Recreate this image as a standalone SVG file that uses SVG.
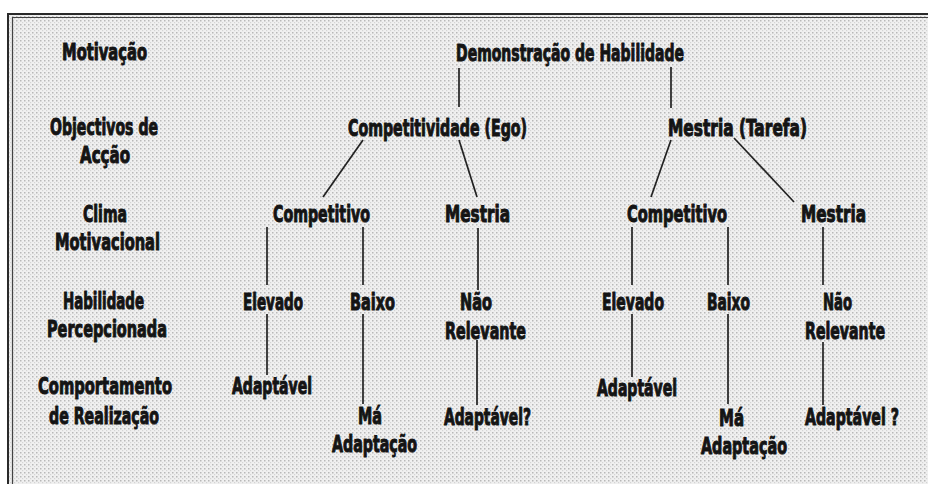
<svg xmlns="http://www.w3.org/2000/svg" width="928" height="484" viewBox="0 0 928 484">
  <defs>
    <pattern id="stipple" width="4" height="4" patternUnits="userSpaceOnUse">
      <rect width="4" height="4" fill="#f0f0f0"/>
      <rect x="0" y="0" width="1.5" height="1.5" fill="#b8b8b8"/>
      <rect x="2" y="2" width="1.2" height="1.2" fill="#d4d4d4"/>
    </pattern>
    <style>
      text { font-family: "Liberation Sans Narrow", "DejaVu Sans Condensed", "Liberation Sans", sans-serif; font-weight: bold; font-size: 23.5px; fill: #141414; stroke: #141414; stroke-width: 1; stroke-linejoin: round; text-anchor: middle; }
      .conn line { stroke: #222; stroke-width: 1.7; fill: none; }
    </style>
  </defs>
  <rect width="928" height="484" fill="#ffffff"/>
  <rect x="8" y="14" width="920" height="470" fill="url(#stipple)"/>
  <path d="M928,14 H8 V484" fill="none" stroke="#2a2a2a" stroke-width="2"/>
  <path d="M928,17.5 H12.5 V484" fill="none" stroke="#444" stroke-width="1.2"/>

  <g id="row-labels">
    <text x="104.5" y="60" textLength="85" lengthAdjust="spacingAndGlyphs">Motivação</text>
    <text x="104" y="135" textLength="108" lengthAdjust="spacingAndGlyphs">Objectivos de</text>
    <text x="105" y="163" textLength="50" lengthAdjust="spacingAndGlyphs">Acção</text>
    <text x="105" y="222" textLength="44" lengthAdjust="spacingAndGlyphs">Clima</text>
    <text x="107.5" y="250" textLength="105" lengthAdjust="spacingAndGlyphs">Motivacional</text>
    <text x="103.5" y="309" textLength="81" lengthAdjust="spacingAndGlyphs">Habilidade</text>
    <text x="107" y="337" textLength="120" lengthAdjust="spacingAndGlyphs">Percepcionada</text>
    <text x="105" y="394" textLength="134" lengthAdjust="spacingAndGlyphs">Comportamento</text>
    <text x="104" y="424" textLength="110" lengthAdjust="spacingAndGlyphs">de Realização</text>
  </g>

  <g class="conn" id="connectors">
    <line x1="459" y1="68" x2="459" y2="107"/>
    <line x1="671" y1="67" x2="671" y2="108"/>
    <line x1="363" y1="140" x2="323" y2="197"/>
    <line x1="459" y1="140" x2="477" y2="197"/>
    <line x1="671" y1="140" x2="651" y2="197"/>
    <line x1="734" y1="138" x2="794" y2="202"/>
    <line x1="267" y1="227" x2="267" y2="285"/>
    <line x1="363" y1="227" x2="363" y2="285"/>
    <line x1="478" y1="228" x2="478" y2="290"/>
    <line x1="632" y1="227" x2="632" y2="285"/>
    <line x1="728" y1="227" x2="728" y2="285"/>
    <line x1="823" y1="227" x2="823" y2="285"/>
    <line x1="267" y1="314" x2="267" y2="375"/>
    <line x1="363" y1="314" x2="363" y2="404"/>
    <line x1="477" y1="340" x2="477" y2="405"/>
    <line x1="632" y1="314" x2="632" y2="377"/>
    <line x1="728" y1="314" x2="728" y2="404"/>
    <line x1="823" y1="342" x2="823" y2="405"/>
  </g>

  <g id="n-demonstracao"><text x="570" y="61" textLength="228" lengthAdjust="spacingAndGlyphs">Demonstração de Habilidade</text></g>
  <g id="n-competitividade"><text x="437.5" y="136" textLength="179" lengthAdjust="spacingAndGlyphs">Competitividade (Ego)</text></g>
  <g id="n-mestria-tarefa"><text x="737.5" y="136" textLength="139" lengthAdjust="spacingAndGlyphs">Mestria (Tarefa)</text></g>

  <g id="n-competitivo-1"><text x="321.5" y="222" textLength="97" lengthAdjust="spacingAndGlyphs">Competitivo</text></g>
  <g id="n-mestria-1"><text x="477.5" y="222" textLength="65" lengthAdjust="spacingAndGlyphs">Mestria</text></g>
  <g id="n-competitivo-2"><text x="677" y="222" textLength="100" lengthAdjust="spacingAndGlyphs">Competitivo</text></g>
  <g id="n-mestria-2"><text x="833.5" y="222" textLength="65" lengthAdjust="spacingAndGlyphs">Mestria</text></g>

  <g id="n-elevado-1"><text x="273" y="310" textLength="60" lengthAdjust="spacingAndGlyphs">Elevado</text></g>
  <g id="n-baixo-1"><text x="372.5" y="310" textLength="45" lengthAdjust="spacingAndGlyphs">Baixo</text></g>
  <g id="n-naorelevante-1">
    <text x="476" y="310" textLength="32" lengthAdjust="spacingAndGlyphs">Não</text>
    <text x="485.5" y="339" textLength="81" lengthAdjust="spacingAndGlyphs">Relevante</text>
  </g>
  <g id="n-elevado-2"><text x="633" y="310" textLength="62" lengthAdjust="spacingAndGlyphs">Elevado</text></g>
  <g id="n-baixo-2"><text x="728.5" y="310" textLength="43" lengthAdjust="spacingAndGlyphs">Baixo</text></g>
  <g id="n-naorelevante-2">
    <text x="837.5" y="310" textLength="29" lengthAdjust="spacingAndGlyphs">Não</text>
    <text x="845" y="339" textLength="80" lengthAdjust="spacingAndGlyphs">Relevante</text>
  </g>

  <g id="n-adaptavel-1"><text x="272" y="394" textLength="80" lengthAdjust="spacingAndGlyphs">Adaptável</text></g>
  <g id="n-maadaptacao-1">
    <text x="370" y="424" textLength="24" lengthAdjust="spacingAndGlyphs">Má</text>
    <text x="374.5" y="452" textLength="85" lengthAdjust="spacingAndGlyphs">Adaptação</text>
  </g>
  <g id="n-adaptavelq-1"><text x="487.5" y="425" textLength="87" lengthAdjust="spacingAndGlyphs">Adaptável?</text></g>
  <g id="n-adaptavel-2"><text x="637" y="396" textLength="80" lengthAdjust="spacingAndGlyphs">Adaptável</text></g>
  <g id="n-maadaptacao-2">
    <text x="731.5" y="426" textLength="25" lengthAdjust="spacingAndGlyphs">Má</text>
    <text x="744" y="454" textLength="86" lengthAdjust="spacingAndGlyphs">Adaptação</text>
  </g>
  <g id="n-adaptavelq-2" transform="matrix(0.67,0,0,1,852,425)">
    <text x="0" y="0">Adaptável ?</text>
  </g>
</svg>
